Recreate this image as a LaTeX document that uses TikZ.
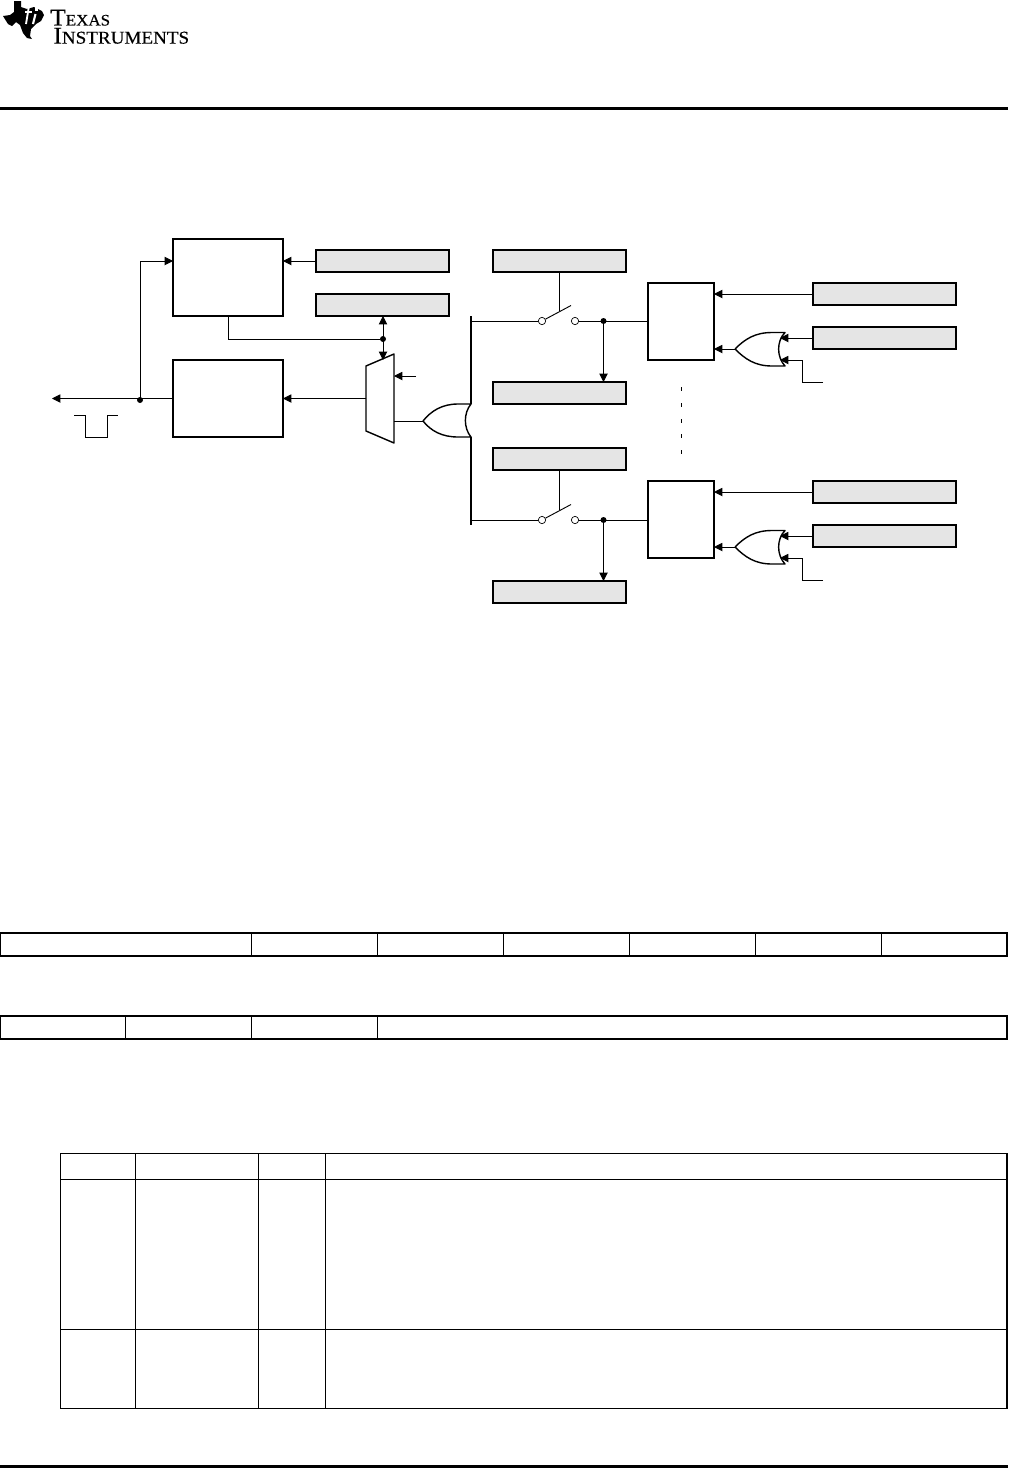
\documentclass[tikz,border=0pt]{standalone}
\usepackage{fontspec}
\usetikzlibrary{arrows.meta}
\newfontfamily\tifont[FakeStretch=1.06,FakeBold=0.35]{Liberation Serif}
\newcommand{\tibig}{\fontsize{18}{18}\selectfont}
\newcommand{\tismall}{\fontsize{13.5}{14}\selectfont}
\newcommand{\tismaller}{\fontsize{12}{14}\selectfont}
\tikzset{
  blk/.style={draw,line width=1.1pt,fill=white,minimum width=82.5pt,minimum height=57.75pt,inner sep=0pt,outer sep=0pt},
  chan/.style={blk,minimum width=49.5pt},
  reg/.style={draw,line width=1.1pt,fill=black!10,minimum width=99.75pt,minimum height=16.5pt,inner sep=0pt,outer sep=0pt},
  regw/.style={reg,minimum width=107.25pt},
  w/.style={line width=0.7pt,-{Triangle[length=6.2pt,width=6.2pt]}},
  wn/.style={line width=0.7pt},
  gate/.style={line width=1.05pt,fill=white,line join=round},
  dot/.style={circle,fill,inner sep=0pt,minimum size=4.5pt},
  swc/.style={circle,draw,fill=white,line width=0.5pt,inner sep=0pt,minimum size=5.5pt},
  cell/.style={line width=0.9pt},
  rule/.style={line width=2.25pt},
}
\begin{document}
\begin{tikzpicture}[x=0.75pt,y=-0.75pt]
 \useasboundingbox (0,0) rectangle (1008,1468);
 % ---- logo and page rules
 \fill (14,1)--(21,1)--(21,7)--(27,9)--(34,7)--(42,11)--(44,15)--(41,21)--(36,24)--(31,29)--(30,36)--(32,39)--(27,38)--(23,33)--(20,25)--(16,22)--(12,26)--(8,24)--(3,16)--(10,15)--(14,12)--cycle;
 \draw[white,line width=1.4pt] (29,6)--(26,24);
 \draw[white,line width=1pt] (25,12)--(32,12);
 \draw[white,line width=1.6pt] (35.5,14)--(33,24);
 \fill[white] (34.5,7) rectangle (37.5,10.5);
 \node[anchor=north west,inner sep=0pt,align=left,font=\tifont] (tiName) at (50,9.5) {\tibig T\tismaller EXAS\\[1.6pt]\hspace{2.4pt}\tibig I\tismall NSTRUMENTS};
 \draw[rule] (0,108.5)--(1008,108.5);
 \draw[rule] (0,1466.5)--(1008,1466.5);
 % ---- left blocks
 \node[blk] (blkTop) at (228,277.5) {};
 \node[blk] (blkBot) at (228,398.5) {};
 \node[reg] (regA) at (382.5,261) {};
 \node[reg] (regB) at (382.5,305) {};
 % ---- mux
 \coordinate (muxL) at (366,398.5);
 \coordinate (muxC) at (394,376);
 \coordinate (muxO) at (394,421);
 \draw[gate] (366,366)--(394,354)--(394,443)--(366,431)--cycle;
 \coordinate (ctlEnd) at (416,376);
 \draw[w] (ctlEnd)--(muxC);
 \draw[w] (muxL)--(blkBot.east);
 % ---- output and pulse
 \coordinate (outEnd) at (52,398.5);
 \node[dot] (jOut) at (140,400) {};
 \draw[w] (blkBot.west)--(outEnd);
 \draw[w] (jOut.center)--(jOut.center |- regA)--(regA -| blkTop.west);
 \draw[w] (regA.west)--(regA -| blkTop.east);
 \draw[wn] (74,415)--(85.5,415)--(85.5,437)--(107.5,437)--(107.5,415)--(118,415);
 % ---- flag to regB and mux
 \node[dot] (jFlag) at (383,339) {};
 \draw[wn] (blkTop.south)--(blkTop.south |- jFlag)--(jFlag);
 \coordinate (muxTop) at (383,360);
 \draw[w] (jFlag.center)--(regB.south -| jFlag);
 \draw[w] (jFlag.center)--(muxTop);
 % ---- bus and big gate
 \coordinate (busA) at (471,316);
 \coordinate (gateT) at (471,404);
 \coordinate (gateB) at (471,437);
 \coordinate (busB) at (471,525);
 \coordinate (gateTip) at (423,421);
 \draw[wn] (muxO)--(gateTip);
 \draw[gate,fill=none] (gateTip) .. controls (431,411) and (442,404) .. (458,404)--(gateT) .. controls (463.5,413) and (463.5,428) .. (gateB)--(458,437) .. controls (442,437) and (431,431) .. (gateTip);
 \draw[line width=1.1pt] (busA)--(gateT);
 \draw[line width=1.1pt] (gateB)--(busB);
 % ---- the two channels
 \foreach \n/\o/\d in {1/0/0,2/198/199}{
  \node[reg] (regS\n) at (559.5,261+\o) {};
  \node[reg] (regD\n) at (559.5,393+\d) {};
  \node[chan] (chan\n) at (681,321.5+\o) {};
  \node[regw] (regE\n) at (884.5,294+\o) {};
  \node[regw] (regF\n) at (884.5,338+\o) {};
  \node[swc] (swL\n) at (542,321+\d) {};
  \node[swc] (swR\n) at (575,321+\d) {};
  \node[dot] (jSw\n) at (603.5,321+\d) {};
  \coordinate (busT\n) at (471,321+\d);
  \coordinate (blade\n) at (571,305.5+\d);
  \coordinate (bladeM\n) at (559.5,311+\d);
  \draw[wn] (busT\n)--(swL\n);
  \draw[wn] (swL\n)--(blade\n);
  \draw[wn] (regS\n.south)--(bladeM\n);
  \draw[wn] (swR\n)--(swR\n -| chan\n.west);
  \draw[w] (jSw\n.center)--(regD\n.north -| jSw\n);
  \draw[w] (regE\n.west)--(regE\n -| chan\n.east);
  % ---- small gate
  \coordinate (tip\n) at (735,349+\o);
  \coordinate (inA\n) at (780,338+\o);
  \coordinate (inB\n) at (780,360+\o);
  \coordinate (free\n) at (823,382+\o);
  \coordinate (bend\n) at (802,382+\o);
  \draw[w] (tip\n)--(tip\n -| chan\n.east);
  \draw[gate,fill=none] (tip\n) .. controls (745,339+\o) and (755,332.5+\o) .. (772,332.5+\o)--(785,332.5+\o) .. controls (776.5,341+\o) and (776.5,357+\o) .. (785,366+\o)--(772,366+\o) .. controls (755,366+\o) and (745,359+\o) .. (tip\n);
  \draw[w] (regF\n.west)--(inA\n);
  \draw[w] (free\n)--(bend\n)--(bend\n |- inB\n)--(inB\n);
 }
 % ---- dots between the channels
 \foreach \y in {389,405,421,436,452}{\draw[line width=0.75pt] (681.7,\y-2)--(681.7,\y+2);}
 % ---- register rows
 \foreach \a/\b in {0.5/251.5,251.5/377.5,377.5/503.5,503.5/629.5,629.5/755.5,755.5/881.5,881.5/1007}{\draw[cell] (\a,933) rectangle (\b,956);}
 \foreach \a/\b in {0.5/125.5,125.5/251.5,251.5/377.5,377.5/1007}{\draw[cell] (\a,1016) rectangle (\b,1039);}
 % ---- field table
 \foreach \a/\b in {60.5/135.5,135.5/258.5,258.5/325.5,325.5/1007}{
  \draw[cell] (\a,1153.5) rectangle (\b,1179.5);
  \draw[cell] (\a,1179.5) rectangle (\b,1329.5);
  \draw[cell] (\a,1329.5) rectangle (\b,1408.5);
 }
\end{tikzpicture}
\end{document}
